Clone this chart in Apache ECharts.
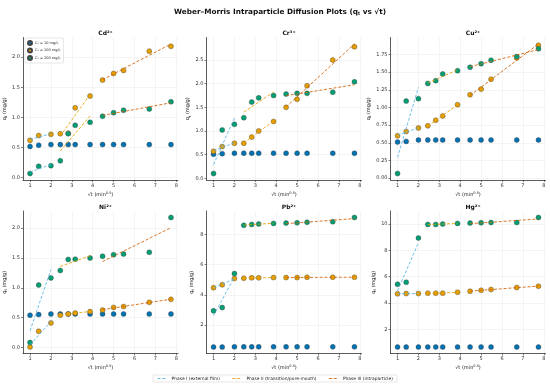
<!DOCTYPE html>
<html><head><meta charset="utf-8">
<script src="https://cdn.jsdelivr.net/npm/echarts@6/dist/echarts.min.js"></script>
<style>html,body{margin:0;padding:0;background:#fff}#c{width:550px;height:387px}</style>
</head><body><div id="c"></div>
<script>
// ---- data ----
const sqrtT = [1.000, 1.414, 2.000, 2.449, 2.828, 3.162, 3.873, 4.472, 5.000, 5.477, 6.708, 7.746];
const xTicks = [1, 2, 3, 4, 5, 6, 7, 8];
const metalNames = ['Cd²⁺', 'Cr³⁺', 'Cu²⁺', 'Ni²⁺', 'Pb²⁺', 'Hg²⁺'];
const concLabels = ['C₀ = 10 mg/L', 'C₀ = 100 mg/L', 'C₀ = 200 mg/L'];
const phaseLabels = ['Phase I (external film)', 'Phase II (transition/pore-mouth)', 'Phase III (intraparticle)'];

const cd10  = [0.52, 0.54, 0.55, 0.55, 0.55, 0.55, 0.55, 0.55, 0.55, 0.55, 0.55, 0.55];
const cd100 = [0.62, 0.70, 0.72, 0.73, 0.74, 1.16, 1.355, 1.62, 1.73, 1.78, 2.10, 2.18];
const cd200 = [0.07, 0.19, 0.20, 0.28, 0.73, 0.87, 0.92, 1.02, 1.08, 1.12, 1.14, 1.26];

const cr10  = [0.51, 0.52, 0.53, 0.53, 0.53, 0.53, 0.53, 0.53, 0.53, 0.53, 0.53, 0.53];
const cr100 = [0.57, 0.67, 0.74, 0.74, 0.87, 1.00, 1.20, 1.50, 1.67, 1.955, 2.50, 2.78];
const cr200 = [0.10, 1.02, 1.14, 1.28, 1.61, 1.70, 1.75, 1.78, 1.795, 1.795, 1.82, 2.04];

const cu10  = [0.51, 0.52, 0.54, 0.54, 0.54, 0.54, 0.54, 0.54, 0.54, 0.54, 0.54, 0.54];
const cu100 = [0.60, 0.66, 0.71, 0.74, 0.82, 0.88, 1.04, 1.18, 1.26, 1.40, 1.70, 1.88];
const cu200 = [0.065, 1.09, 1.125, 1.34, 1.38, 1.475, 1.52, 1.57, 1.62, 1.67, 1.72, 1.83];

const ni10  = [0.54, 0.55, 0.56, 0.56, 0.56, 0.56, 0.56, 0.56, 0.56, 0.56, 0.56, 0.56];
const ni100 = [0.005, 0.27, 0.41, 0.54, 0.56, 0.575, 0.60, 0.625, 0.67, 0.685, 0.755, 0.805];
const ni200 = [0.08, 1.045, 1.165, 1.29, 1.475, 1.48, 1.50, 1.53, 1.555, 1.565, 1.595, 2.18];

const pb10  = [0.55, 0.55, 0.56, 0.56, 0.56, 0.56, 0.56, 0.56, 0.56, 0.56, 0.56, 0.56];
const pb100 = [4.47, 4.66, 5.08, 5.10, 5.12, 5.12, 5.14, 5.14, 5.14, 5.16, 5.16, 5.16];
const pb200 = [2.94, 3.16, 5.40, 8.59, 8.65, 8.68, 8.72, 8.74, 8.76, 8.79, 8.83, 9.11];

const hg10  = [0.66, 0.66, 0.66, 0.66, 0.66, 0.66, 0.66, 0.66, 0.66, 0.66, 0.66, 0.66];
const hg100 = [4.70, 4.72, 4.72, 4.75, 4.75, 4.75, 4.82, 4.90, 4.97, 5.03, 5.18, 5.28];
const hg200 = [5.43, 5.58, 8.94, 9.97, 9.97, 10.00, 10.05, 10.08, 10.10, 10.12, 10.12, 10.50];

const yTicksCd = [0, 0.5, 1.0, 1.5, 2.0];
const yTicksCr = [0, 0.5, 1.0, 1.5, 2.0, 2.5];
const yTicksCu = [0, 0.25, 0.5, 0.75, 1.0, 1.25, 1.5, 1.75];
const yTicksNi = [0, 0.5, 1.0, 1.5, 2.0];
const yTicksPb = [2, 4, 6, 8];
const yTicksHg = [2, 4, 6, 8, 10];
const yDecimals = [1, 1, 2, 1, 0, 0];

// phase segments (index ranges of the sqrt(t) points)
const phaseRanges = [[0, 3], [3, 7], [7, 12]];

// ---- styling ----
const FONT = 'DejaVu Sans';
const concColors = ['#0072B2', '#E69F00', '#009E73'];
const phaseColors = ['#56B4E9', '#E69F00', '#D55E00'];

const panels = [
  [cd10, cd100, cd200, yTicksCd],
  [cr10, cr100, cr200, yTicksCr],
  [cu10, cu100, cu200, yTicksCu],
  [ni10, ni100, ni200, yTicksNi],
  [pb10, pb100, pb200, yTicksPb],
  [hg10, hg100, hg200, yTicksHg]
];

const colLeft = [23, 206.5, 390.5];
const rowTop = [37.5, 211];
const W = 155, H = 142.5;

function fit(xs, ys) {
  const n = xs.length;
  let mx = 0, my = 0;
  for (let i = 0; i < n; i++) { mx += xs[i]; my += ys[i]; }
  mx /= n; my /= n;
  let sxx = 0, sxy = 0;
  for (let i = 0; i < n; i++) { sxx += (xs[i] - mx) ** 2; sxy += (xs[i] - mx) * (ys[i] - my); }
  const b = sxy / sxx, a = my - b * mx;
  return [[xs[0], a + b * xs[0]], [xs[n - 1], a + b * xs[n - 1]]];
}

const grids = [], xAxes = [], yAxes = [], series = [], titles = [];
titles.push({
  text: 'Weber–Morris Intraparticle Diffusion Plots (q{s|t} vs √t)',
  left: 275, top: 3, textAlign: 'center',
  textStyle: { fontFamily: FONT, fontSize: 7.3, fontWeight: 'bold', color: '#111',
    rich: { s: { fontFamily: FONT, fontSize: 4.5, fontWeight: 'bold', verticalAlign: 'bottom', padding: [3, 0, 0, 0] } } }
});

panels.forEach((p, k) => {
  const r = Math.floor(k / 3), c = k % 3;
  grids.push({ left: colLeft[c], top: rowTop[r], width: W, height: H });
  let lo = Infinity, hi = -Infinity;
  const lines = [];
  for (let s = 0; s < 3; s++) p[s].forEach(v => { lo = Math.min(lo, v); hi = Math.max(hi, v); });
  for (let s = 1; s < 3; s++) {
    phaseRanges.forEach((rg, ph) => {
      const seg = fit(sqrtT.slice(rg[0], rg[1]), p[s].slice(rg[0], rg[1]));
      seg.forEach(pt => { lo = Math.min(lo, pt[1]); hi = Math.max(hi, pt[1]); });
      lines.push([ph, seg]);
    });
  }
  const pad = (hi - lo) * 0.05;
  const xlo = sqrtT[0], xhi = sqrtT[sqrtT.length - 1], xpad = (xhi - xlo) * 0.05;
  const dec = yDecimals[k];
  xAxes.push({
    type: 'value', gridIndex: k, min: xlo - xpad, max: xhi + xpad,
    name: '√t (min{s|0.5})', nameLocation: 'middle', nameGap: 11,
    nameTextStyle: { fontFamily: FONT, fontSize: 5, color: '#222',
      rich: { s: { fontFamily: FONT, fontSize: 3.5, verticalAlign: 'top', padding: [0, 0, 3, 0] } } },
    axisLine: { show: true, onZero: false, lineStyle: { color: '#333', width: 0.8 } },
    axisTick: { show: true, length: 2, customValues: xTicks, lineStyle: { color: '#333', width: 0.6 } },
    axisLabel: { customValues: xTicks, fontFamily: FONT, fontSize: 5, color: '#333', margin: 3, formatter: v => String(v) },
    splitLine: { show: true, lineStyle: { color: '#ececec', width: 0.6 } }
  });
  yAxes.push({
    type: 'value', gridIndex: k, min: lo - pad, max: hi + pad,
    name: '{i|q}{s|t}{i| (mg/g)}', nameLocation: 'middle', nameGap: 11,
    nameTextStyle: { fontFamily: FONT, fontSize: 5, color: '#222',
      rich: { i: { fontFamily: FONT, fontSize: 5 }, s: { fontFamily: FONT, fontSize: 3.5, verticalAlign: 'bottom', padding: [3, 0, 0, 0] } } },
    axisLine: { show: true, onZero: false, lineStyle: { color: '#333', width: 0.8 } },
    axisTick: { show: true, length: 2, customValues: p[3], lineStyle: { color: '#333', width: 0.6 } },
    axisLabel: { customValues: p[3], fontFamily: FONT, fontSize: 5, color: '#333', margin: 3, formatter: v => v.toFixed(dec) },
    splitLine: { show: true, lineStyle: { color: '#ececec', width: 0.6 } }
  });
  titles.push({
    text: metalNames[k], left: colLeft[c] + W / 2, top: rowTop[r] - 12, textAlign: 'center',
    textStyle: { fontFamily: FONT, fontSize: 6, fontWeight: 'bold', color: '#111' }
  });
  for (let s = 0; s < 3; s++) {
    series.push({
      type: 'scatter', name: concLabels[s], xAxisIndex: k, yAxisIndex: k,
      data: sqrtT.map((x, i) => [x, p[s][i]]), symbolSize: 5, z: 2,
      itemStyle: { color: concColors[s], borderColor: '#444', borderWidth: 0.4, opacity: 1 }
    });
  }
  lines.forEach(([ph, seg]) => {
    series.push({
      type: 'line', name: phaseLabels[ph], xAxisIndex: k, yAxisIndex: k, data: seg,
      symbol: 'none', z: 3, silent: true,
      lineStyle: { color: phaseColors[ph], width: 1, type: [3, 1.8], opacity: 0.85 },
      itemStyle: { color: phaseColors[ph] }
    });
  });
});

const chart = echarts.init(document.getElementById('c'), null, { renderer: 'canvas' });
chart.setOption({
  animation: false,
  backgroundColor: '#fff',
  title: titles,
  grid: grids, xAxis: xAxes, yAxis: yAxes, series: series,
  legend: [
    { data: concLabels, orient: 'vertical', left: 25, top: 38, itemWidth: 4, itemHeight: 4, itemGap: 1.5,
      padding: [2, 3, 2, 2], borderColor: '#ccc', borderWidth: 0.5, borderRadius: 1, backgroundColor: '#fff',
      icon: 'circle', textStyle: { fontFamily: FONT, fontSize: 3.5, color: '#222', padding: [0, 0, 0, -2] } },
    { data: phaseLabels, orient: 'horizontal', left: 'center', top: 375, itemWidth: 9, itemHeight: 4, itemGap: 12,
      padding: [1.5, 4, 1.5, 4], borderColor: '#ccc', borderWidth: 0.5, borderRadius: 1,
      itemStyle: { color: 'rgba(0,0,0,0)', borderWidth: 0, opacity: 0 },
      lineStyle: { width: 1, type: [3, 1.8] },
      textStyle: { fontFamily: FONT, fontSize: 4.4, color: '#222' } }
  ]
});
</script>
</body></html>
